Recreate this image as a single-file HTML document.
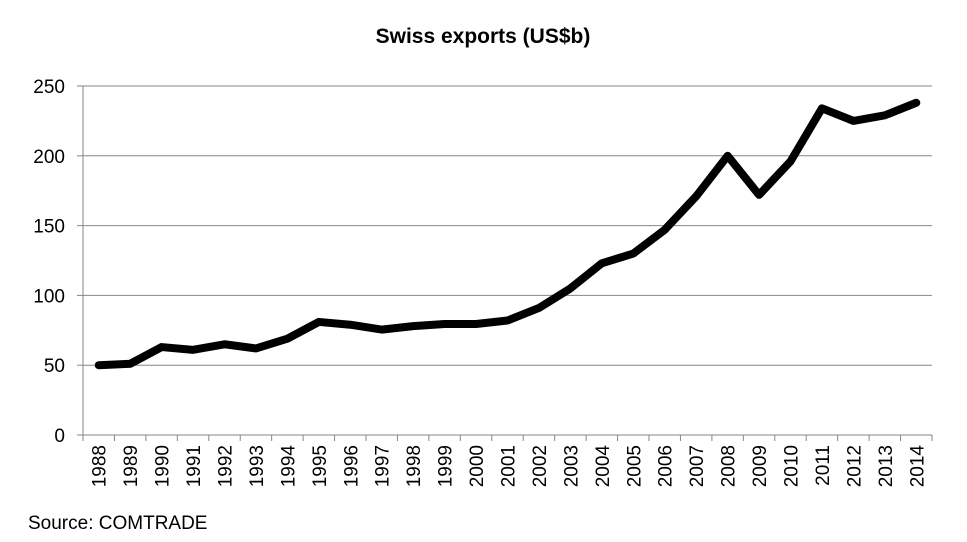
<!DOCTYPE html>
<html><head><meta charset="utf-8"><style>
html,body{margin:0;padding:0;background:#fff;}
svg{display:block;font-family:"Liberation Sans",sans-serif;}
</style></head><body>
<svg id="chart" width="967" height="542">
<text x="483" y="43" text-anchor="middle" font-size="21" font-weight="bold">Swiss exports (US$b)</text>
<g id="grid"></g><g id="axes"></g><g id="series"></g>
<text x="28" y="529" font-size="19">Source: COMTRADE</text>
</svg>
<script>
const years=[1988,1989,1990,1991,1992,1993,1994,1995,1996,1997,1998,1999,2000,2001,2002,2003,2004,2005,2006,2007,2008,2009,2010,2011,2012,2013,2014];
const exportsUSD=[50,51,63,61,65,62,69,81,79,75.5,78,79.5,79.5,82,91,105,123,130,147,171,200,172,196,234,225,229,238];
const yTicks=[0,50,100,150,200,250];
const L=83,R=932,T=86,B=435,yMax=250;
const NS="http://www.w3.org/2000/svg";
const bw=(R-L)/years.length;
const x=i=>L+bw*(i+0.5);
const y=v=>B-(v/yMax)*(B-T);
function mk(t,a,p){const e=document.createElementNS(NS,t);for(const k in a)e.setAttribute(k,a[k]);p.appendChild(e);return e;}
const g=document.getElementById('grid'),ax=document.getElementById('axes'),s=document.getElementById('series');
yTicks.forEach(v=>{
  if(v>0){const ln=mk('line',{x1:L,x2:R,y1:y(v),y2:y(v),stroke:'#868686','stroke-width':1},g);
  
  }
  const t=mk('text',{x:L-18,y:y(v)+7,'text-anchor':'end','font-size':19},ax);t.textContent=v;
  
  
  mk('line',{x1:L-6,x2:L,y1:y(v),y2:y(v),stroke:'#868686'},ax);
});
mk('line',{x1:L,x2:L,y1:T,y2:B,stroke:'#868686'},ax);
mk('line',{x1:L,x2:R,y1:B,y2:B,stroke:'#868686'},ax);
for(let i=0;i<=years.length;i++){mk('line',{x1:L+bw*i,x2:L+bw*i,y1:B,y2:B+6,stroke:'#868686'},ax);}
years.forEach((yr,i)=>{
  const t=mk('text',{x:0,y:0,'text-anchor':'end','font-size':19,transform:`translate(${x(i)+7},${B+10}) rotate(-90)`},ax);
  t.textContent=yr;
  
  
});
const p=mk('polyline',{points:exportsUSD.map((v,i)=>x(i)+','+y(v)).join(' '),fill:'none',stroke:'#000','stroke-width':8,'stroke-linejoin':'round','stroke-linecap':'round'},s);


</script>
</body></html>
